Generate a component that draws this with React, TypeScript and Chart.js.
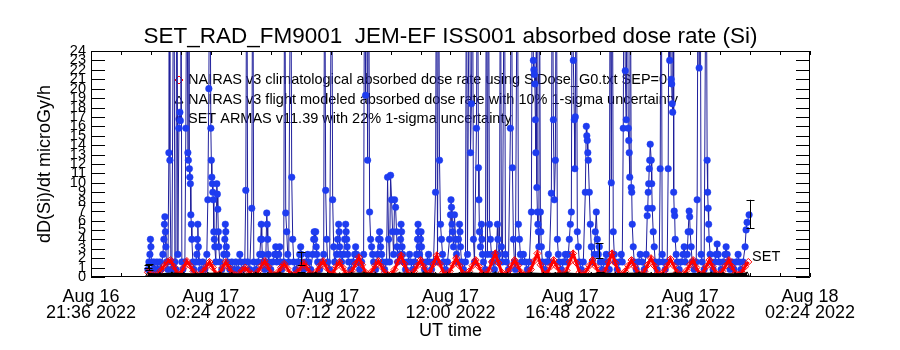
import React, { useEffect, useRef } from 'react';
import { Chart, registerables } from 'chart.js';

Chart.register(...registerables);

// ---- axis definitions (hours since Aug 16 2022 21:36 UT) ----
const xTickHours = [0, 4.8, 9.6, 14.4, 19.2, 24.0, 28.8];
const xTickDates = ['Aug 16', 'Aug 17', 'Aug 17', 'Aug 17', 'Aug 17', 'Aug 17', 'Aug 18'];
const xTickTimes = ['21:36 2022', '02:24 2022', '07:12 2022', '12:00 2022', '16:48 2022', '21:36 2022', '02:24 2022'];
const xMinorStep = 1.2;
const yMin = 0;
const yMax = 24;

const titleText = 'SET_RAD_FM9001  JEM-EF ISS001 absorbed dose rate (Si)';
const yTitle = 'dD(Si)/dt microGy/h';
const xTitle = 'UT time';
const legendLabels = [
  'NAIRAS v3 climatological absorbed dose rate using SiDose_G0.txt SEP=0',
  'NAIRAS v3 flight modeled absorbed dose rate with 10% 1-sigma uncertainty',
  'SET ARMAS v11.39 with 22% 1-sigma uncertainty',
];

// ---- SET ARMAS measured dose rate: [hour, microGy/h] (values > 24 are off scale) ----
const blueSamples: [number, number][] = [
  [2.28,0.8],[2.32,1.6],[2.36,2.4],[2.38,4.0],[2.40,3.2],[2.42,1.6],[2.48,0.8],[2.52,1.6],[2.56,0.8],[2.64,1.6],
  [2.68,0.8],[2.76,1.6],[2.80,0.8],[2.88,2.4],[2.92,4.0],[2.94,5.6],[2.96,6.4],[2.98,4.8],[3.00,3.2],[3.02,1.6],
  [3.08,0.8],[3.12,13.2],[3.13,40],[3.16,12.4],[3.20,1.6],[3.24,0.8],[3.32,40],[3.36,1.6],[3.40,0.8],[3.44,40],
  [3.48,2.4],[3.52,15.8],[3.56,17.5],[3.58,16.6],[3.60,40],[3.64,1.6],[3.68,0.8],[3.76,1.6],[3.80,15.8],[3.84,40],
  [3.88,13.2],[3.90,12.4],[3.92,40],[3.94,11.5],[3.96,10.6],[3.98,9.9],[4.00,6.6],[4.02,5.6],[4.04,4.0],[4.08,1.6],
  [4.12,0.8],[4.20,1.6],[4.24,2.4],[4.26,4.0],[4.28,5.6],[4.30,3.2],[4.32,1.6],[4.40,0.8],[4.48,1.6],[4.56,0.8],
  [4.64,2.4],[4.68,8.2],[4.72,20],[4.76,40],[4.80,15.8],[4.82,12.4],[4.84,10.6],[4.86,9.9],[4.88,9.0],[4.90,8.2],
  [4.92,4.8],[4.94,4.0],[4.96,3.2],[5.00,1.6],[5.04,9.9],[5.06,8.8],[5.08,7.2],[5.10,4.8],[5.12,3.2],[5.16,1.6],
  [5.24,0.8],[5.32,2.4],[5.36,4.0],[5.38,5.6],[5.40,4.8],[5.42,3.2],[5.44,2.4],[5.48,1.6],[5.56,0.8],[5.64,1.6],
  [5.72,0.8],[5.80,1.6],[5.88,0.8],[5.96,2.4],[6.00,1.6],[6.08,0.8],[6.16,1.6],[6.20,9.2],[6.24,40],[6.28,1.6],
  [6.36,0.8],[6.44,7.3],[6.48,40],[6.52,1.6],[6.60,0.8],[6.68,1.6],[6.76,2.4],[6.80,4.0],[6.82,5.6],[6.84,4.0],
  [6.86,2.4],[6.88,1.6],[6.96,0.8],
  [7.00,1.6],[7.04,6.8],[7.06,5.6],[7.08,4.0],[7.10,2.4],[7.12,1.6],[7.20,0.8],[7.28,1.6],[7.36,2.4],[7.40,3.2],
  [7.42,2.4],[7.44,1.6],[7.52,2.4],[7.56,3.2],[7.58,1.6],[7.64,0.8],[7.72,1.6],[7.76,40],[7.80,6.8],[7.84,4.8],
  [7.88,2.4],[7.92,1.6],[8.00,40],[8.04,10.6],[8.08,4.0],[8.12,1.6],[8.20,0.8],[8.28,1.6],[8.36,2.4],[8.40,3.2],
  [8.42,2.4],[8.44,1.6],[8.52,0.8],[8.60,1.6],[8.68,2.4],[8.72,1.6],[8.80,0.8],[8.88,2.4],[8.92,4.0],[8.94,4.8],
  [8.96,4.0],[9.00,4.8],[9.02,3.2],[9.04,2.4],[9.08,1.6],[9.16,0.8],[9.24,1.6],[9.32,2.4],[9.36,40],[9.40,9.2],
  [9.44,4.0],[9.48,1.6],[9.56,0.8],[9.64,40],[9.68,8.2],[9.72,3.2],[9.76,1.6],[9.84,2.4],[9.88,4.0],[9.92,5.6],
  [9.94,4.8],[9.96,3.2],[10.00,2.4],[10.04,1.6],[10.12,2.4],[10.16,4.0],[10.20,5.6],[10.22,4.8],[10.24,4.0],[10.26,3.2],
  [10.28,2.4],[10.32,1.6],[10.40,0.8],[10.48,1.6],[10.56,2.4],[10.60,3.2],[10.64,2.4],[10.68,1.6],[10.76,0.8],[10.84,1.6],
  [10.92,2.4],[10.96,40],[11.00,19.3],[11.04,40],[11.08,12.4],[11.12,40],[11.16,6.9],[11.20,4.0],[11.24,3.2],[11.28,2.4],
  [11.32,1.6],[11.40,0.8],[11.48,2.4],[11.52,4.0],[11.56,4.8],[11.58,4.0],[11.60,3.2],[11.64,2.4],[11.68,1.6],[11.76,0.8],
  [11.84,1.6],[11.88,10.6],[11.92,4.0],
  [11.96,1.6],[12.00,10.8],[12.04,8.2],[12.08,4.8],[12.12,2.4],[12.16,8.2],[12.20,7.4],[12.24,4.8],[12.26,3.2],[12.28,1.6],
  [12.36,2.4],[12.40,4.0],[12.42,5.6],[12.44,4.8],[12.46,3.2],[12.48,2.4],[12.52,1.6],[12.60,0.8],[12.68,1.6],[12.76,2.4],
  [12.80,1.6],[12.88,0.8],[12.96,1.6],[13.04,2.4],[13.08,4.0],[13.10,5.6],[13.12,4.8],[13.14,3.2],[13.16,2.4],[13.20,4.0],
  [13.22,4.8],[13.24,3.2],[13.28,1.6],[13.36,0.8],[13.44,1.6],[13.52,2.4],[13.56,1.6],[13.64,0.8],[13.72,1.6],[13.80,9.0],
  [13.84,40],[13.88,1.6],[13.92,40],[13.96,12.4],[14.00,5.6],[14.04,4.0],[14.08,2.4],[14.12,1.6],[14.20,0.8],[14.28,1.6],
  [14.36,4.0],[14.40,6.6],[14.42,8.2],[14.44,7.4],[14.46,5.6],[14.48,4.8],[14.52,3.2],[14.56,6.6],[14.60,4.0],[14.64,2.4],
  [14.68,1.6],[14.72,4.0],[14.76,5.6],[14.78,4.8],[14.80,3.2],[14.84,1.6],[14.92,0.8],[15.00,1.6],[15.04,40],[15.08,2.4],
  [15.16,40],[15.20,13.2],[15.24,18.4],[15.28,40],[15.32,4.0],[15.36,1.6],[15.44,15.8],[15.48,40],[15.52,11.6],[15.54,8.2],
  [15.56,4.8],[15.60,3.2],[15.64,5.6],[15.66,4.0],[15.68,2.4],[15.72,1.6],[15.80,0.8],[15.84,40],[15.88,2.4],[15.92,40],
  [15.96,5.6],[16.00,4.0],[16.04,2.4],[16.08,1.6],[16.16,0.8],[16.24,2.4],[16.28,5.6],[16.30,4.0],[16.32,2.4],[16.36,1.6],
  [16.40,40],[16.44,3.2],[16.48,1.6],[16.56,40],[16.60,2.4],[16.64,1.6],[16.72,0.8],[16.80,15.8],[16.84,40],[16.88,11.6],
  [16.92,4.0],[16.96,1.6],
  [17.00,0.8],[17.08,40],[17.12,5.6],[17.16,4.0],[17.20,2.4],[17.24,1.6],[17.32,2.4],[17.40,1.6],[17.48,0.8],[17.56,1.6],
  [17.64,6.9],[17.68,40],[17.72,23.0],[17.74,22.0],[17.76,21.5],[17.78,20.5],[17.80,16.7],[17.82,13.2],[17.84,40],[17.86,9.5],
  [17.88,6.9],[17.90,5.6],[17.92,4.8],[17.94,3.2],[17.96,40],[18.00,6.9],[18.02,4.8],[18.04,3.2],[18.08,1.6],[18.16,0.8],
  [18.24,1.6],[18.32,2.4],[18.36,1.6],[18.44,8.9],[18.48,40],[18.52,16.7],[18.56,8.2],[18.60,12.4],[18.64,40],[18.68,4.0],
  [18.72,2.4],[18.76,1.6],[18.84,0.8],[18.92,1.6],[19.00,2.4],[19.04,1.6],[19.12,2.4],[19.16,4.0],[19.20,5.6],[19.24,6.9],
  [19.28,40],[19.32,23.0],[19.36,16.7],[19.38,11.5],[19.40,17.0],[19.44,40],[19.48,4.8],[19.52,3.2],[19.56,1.6],[19.64,0.8],
  [19.72,1.6],[19.80,9.0],[19.84,16.0],[19.86,15.0],[19.88,14.5],[19.90,13.2],[19.92,12.4],[19.96,9.0],[20.00,5.6],[20.04,3.2],
  [20.08,1.6],[20.16,2.4],[20.20,4.8],[20.24,6.9],[20.28,4.0],[20.32,2.4],[20.36,3.2],[20.40,1.6],[20.48,0.8],[20.56,1.6],
  [20.64,2.4],[20.68,1.6],[20.76,0.8],[20.80,40],[20.84,10.0],[20.88,40],[20.92,4.8],[20.96,2.4],[21.00,1.6],[21.08,0.8],
  [21.16,1.6],[21.24,2.4],[21.28,1.6],[21.32,15.8],[21.36,40],[21.40,21.9],[21.44,16.7],[21.48,40],[21.52,15.8],[21.54,14.5],
  [21.56,13.2],[21.58,10.6],[21.60,40],[21.64,9.5],[21.66,9.0],[21.68,5.6],[21.72,3.2],[21.76,1.6],[21.84,0.8],[21.92,1.6],
  [22.00,2.4],[22.08,1.6],[22.16,0.8],[22.24,2.4],[22.28,6.5],[22.30,7.3],[22.32,9.0],[22.34,9.9],[22.36,11.5],[22.38,12.4],
  [22.40,14.1],[22.44,12.4],[22.46,9.9],[22.48,7.3],[22.52,4.8],[22.56,3.2],[22.60,1.6],[22.68,0.8],[22.76,1.6],[22.80,11.5],
  [22.84,40],[22.88,2.4],[22.92,1.6],[23.00,0.8],[23.08,1.6],[23.12,11.5],[23.16,40],[23.18,23.0],[23.20,40],[23.24,21.0],
  [23.26,20.5],[23.28,18.4],[23.30,17.5],[23.32,40],[23.34,9.0],[23.36,7.0],[23.38,6.5],[23.40,4.0],[23.44,2.4],[23.48,1.6],
  [23.56,0.8],[23.64,1.6],[23.72,2.4],[23.76,3.2],[23.80,1.6],[23.88,2.4],[23.92,4.8],[23.96,7.0],[23.98,6.4],[24.00,4.8],
  [24.04,3.2],[24.08,1.6],[24.16,0.8],[24.24,1.6],[24.28,8.2],[24.32,40],[24.36,22.2],[24.40,40],[24.44,2.4],[24.48,1.6],
  [24.56,0.8],[24.64,40],[24.68,12.4],[24.70,9.0],[24.72,7.3],[24.74,5.6],[24.76,4.0],[24.80,2.4],[24.84,1.6],[24.92,0.8],
  [25.00,1.6],[25.04,2.4],[25.08,3.5],[25.12,2.4],[25.16,1.6],[25.24,0.8],[25.32,1.6],[25.40,2.4],[25.44,3.2],[25.48,2.4],
  [25.52,1.6],[25.60,0.8],[25.68,1.6],[25.76,0.8],[25.84,1.6],[25.92,2.4],[25.96,1.6],[26.04,0.8],[26.12,1.6],[26.20,3.2],
  [26.24,5.0],[26.28,5.8],[26.36,6.6],
];

// ---- NAIRAS v3 climatological dose rate, regular samples ----
const redStartHour = 2.28;
const redStepHour = 0.13;
const redDose = [
  0.5, 0.3, 0.2, 0.3, 0.7, 1.2, 1.6,
  1.8, 1.1, 0.4, 0.3, 1.0,
  1.7, 1.2, 0.6, 0.2, 0.2, 0.6, 1.1,
  1.6, 1.0, 0.3, 0.3, 1.0,
  1.6, 1.0, 0.4, 0.2, 0.3, 0.7,
  1.0, 0.6, 0.3, 0.2, 0.6, 1.2,
  1.7, 1.1, 0.4, 0.2, 0.5, 1.0,
  1.4, 0.9, 0.3, 0.2, 0.5, 1.0,
  1.5, 1.0, 0.4, 0.2, 0.6, 1.2,
  1.7, 1.0, 0.3, 0.4, 1.1,
  1.6, 1.0, 0.4, 0.2, 0.7, 1.4,
  2.1, 1.3, 0.5, 0.2, 0.6, 1.2,
  1.7, 1.1, 0.5, 0.2, 0.3, 0.8, 1.6,
  2.3, 1.4, 0.5, 0.2, 0.6, 1.2,
  1.8, 1.1, 0.3, 0.5, 1.4,
  2.3, 1.4, 0.5, 0.2, 0.6, 1.3,
  2.0, 1.2, 0.4, 0.2, 0.6, 1.2,
  1.8, 1.1, 0.4, 0.2, 0.7, 1.6,
  2.5, 1.5, 0.5, 0.2, 0.6, 1.2,
  1.8, 1.2, 0.5, 0.2, 0.3, 0.8, 1.7,
  2.5, 1.3, 0.3, 0.4, 1.1,
  1.8, 1.1, 0.4, 0.2, 0.7, 1.6,
  2.5, 1.5, 0.5, 0.2, 0.6, 1.2,
  1.8, 1.1, 0.4, 0.2, 0.7, 1.6,
  2.5, 1.5, 0.5, 0.2, 0.6, 1.2,
  1.8, 1.1, 0.4, 0.2, 0.6, 1.3,
  2.0, 1.2, 0.4, 0.2, 0.6, 1.2,
  1.9, 1.2, 0.5, 0.2, 0.3, 0.7, 1.3,
  1.8, 1.0, 0.3, 0.4, 1.1,
  1.8, 1.1, 0.4, 0.2, 0.6, 1.2,
  1.8, 1.1, 0.4, 0.2, 0.5, 1.1,
  1.6,
];

// ---- NAIRAS v3 flight modeled dose rate, regular samples ----
const blackStartHour = 2.28;
const blackStepHour = 0.48;
const blackDose = [
  0.25, 0.22, 0.28, 0.25, 0.2, 0.26, 0.3, 0.24, 0.22, 0.27,
  0.25, 0.3, 0.22, 0.25, 0.28, 0.24, 0.2, 0.26, 0.3, 0.25,
  0.22, 0.28, 0.25, 0.3, 0.24, 0.22, 0.26, 0.28, 0.25, 0.3,
  0.22, 0.25, 0.28, 0.24, 0.26, 0.3, 0.22, 0.25, 0.28, 0.24,
  0.26, 0.3, 0.25, 0.22, 0.28, 0.24, 0.26, 0.3, 0.25, 0.22,
  0.28,
];

// ---- SET 22% error bars at sparse times ----
const errHours = [2.34, 8.40, 20.36, 26.38];
const errCenter = [1.05, 2.0, 2.8, 6.7];
const errHalf = [0.3, 0.7, 0.8, 1.5];
// NAIRAS flight 10% error marks
const nErrHours = [2.30, 8.42, 20.38];
const nErrCenter = [1.1, 0.5, 0.45];
const nErrHalf = [0.15, 0.04, 0.04];

const setLabelValue = 2.1;

const FONT = '"Liberation Sans", Arial, sans-serif';
const BLUE_LINE = '#20209c';
const BLUE_PT = '#1e3cf0';
const RED = '#ff0000';

const overlayPlugin = {
  id: 'idlOverlay',
  beforeDatasetsDraw(chart: any) {
    const { ctx, chartArea } = chart;
    const { left, top } = chartArea;
    ctx.save();
    ctx.font = '14.5px ' + FONT;
    ctx.fillStyle = '#000';
    ctx.textAlign = 'left';
    ctx.textBaseline = 'middle';
    const rows = [top + 29, top + 49, top + 68];
    legendLabels.forEach((t, i) => ctx.fillText(t, left + 97, rows[i]));
    const sx = left + 88;
    ctx.strokeStyle = RED;
    ctx.lineWidth = 1;
    ctx.beginPath();
    ctx.moveTo(sx, rows[0] - 4);
    ctx.lineTo(sx + 4, rows[0]);
    ctx.lineTo(sx, rows[0] + 4);
    ctx.lineTo(sx - 4, rows[0]);
    ctx.closePath();
    ctx.stroke();
    ctx.strokeStyle = '#000';
    ctx.beginPath();
    ctx.moveTo(sx, rows[1] - 4);
    ctx.lineTo(sx + 4, rows[1] + 3);
    ctx.lineTo(sx - 4, rows[1] + 3);
    ctx.closePath();
    ctx.stroke();
    ctx.fillStyle = BLUE_PT;
    ctx.beginPath();
    ctx.arc(sx, rows[2], 3.5, 0, Math.PI * 2);
    ctx.fill();
    ctx.restore();
  },
  afterDatasetsDraw(chart: any) {
    const { ctx, scales } = chart;
    const xs = scales.x;
    const ys = scales.y;
    ctx.save();
    ctx.strokeStyle = '#000';
    ctx.lineWidth = 1;
    const drawBar = (h: number, c: number, d: number, cap: number) => {
      const px = Math.round(xs.getPixelForValue(h)) + 0.5;
      const y1 = ys.getPixelForValue(c + d);
      const y2 = ys.getPixelForValue(c - d);
      ctx.beginPath();
      ctx.moveTo(px, y1);
      ctx.lineTo(px, y2);
      ctx.moveTo(px - cap, Math.round(y1) + 0.5);
      ctx.lineTo(px + cap, Math.round(y1) + 0.5);
      ctx.moveTo(px - cap, Math.round(y2) + 0.5);
      ctx.lineTo(px + cap, Math.round(y2) + 0.5);
      ctx.stroke();
    };
    errHours.forEach((h, i) => drawBar(h, errCenter[i], errHalf[i], 4));
    nErrHours.forEach((h, i) => drawBar(h, nErrCenter[i], nErrHalf[i], 4));
    const last = blueSamples[blueSamples.length - 1];
    ctx.font = '14.5px ' + FONT;
    ctx.fillStyle = '#000';
    ctx.textAlign = 'left';
    ctx.textBaseline = 'middle';
    ctx.fillText('SET', xs.getPixelForValue(last[0]) + 3, ys.getPixelForValue(setLabelValue));
    ctx.restore();
  },
  afterDraw(chart: any) {
    const { ctx, chartArea, scales } = chart;
    const { left, right, top, bottom } = chartArea;
    const xs = scales.x;
    const ys = scales.y;
    ctx.save();
    ctx.strokeStyle = '#000';
    ctx.lineWidth = 1;
    ctx.beginPath();
    ctx.rect(left + 0.5, top + 0.5, right - left - 1, bottom - top - 1);
    ctx.stroke();
    ctx.beginPath();
    for (let v = yMin; v <= yMax; v++) {
      const py = Math.round(ys.getPixelForValue(v)) + 0.5;
      ctx.moveTo(left, py);
      ctx.lineTo(left + 14, py);
      ctx.moveTo(right - 14, py);
      ctx.lineTo(right, py);
    }
    const nMinor = Math.round((xTickHours[xTickHours.length - 1] - xTickHours[0]) / xMinorStep);
    for (let k = 0; k <= nMinor; k++) {
      const px = Math.round(xs.getPixelForValue(xTickHours[0] + k * xMinorStep)) + 0.5;
      ctx.moveTo(px, top);
      ctx.lineTo(px, top + 4);
      ctx.moveTo(px, bottom);
      ctx.lineTo(px, bottom - 4);
    }
    ctx.stroke();
    ctx.fillStyle = '#000';
    ctx.textAlign = 'center';
    ctx.textBaseline = 'middle';
    ctx.font = '22.5px ' + FONT;
    ctx.fillText(titleText, (left + right) / 2, top - 14);
    ctx.font = '18px ' + FONT;
    ctx.fillText(xTitle, (left + right) / 2, bottom + 54);
    ctx.translate(45, (top + bottom) / 2);
    ctx.rotate(-Math.PI / 2);
    ctx.font = '18px ' + FONT;
    ctx.fillText(yTitle, 0, 0);
    ctx.restore();
  },
};

export default function App() {
  const ref = useRef<HTMLCanvasElement | null>(null);
  useEffect(() => {
    if (!ref.current) return;
    const chart = new Chart(ref.current, {
      type: 'line',
      data: {
        datasets: [
          {
            label: 'NAIRAS flight',
            data: blackDose.map((v, i) => ({ x: blackStartHour + i * blackStepHour, y: v })),
            borderColor: '#000',
            borderWidth: 3.5,
            pointStyle: 'triangle',
            pointRadius: 2.5,
            pointBorderColor: '#000',
            pointBackgroundColor: 'rgba(0,0,0,0)',
            pointBorderWidth: 1,
            order: 0,
          },
          {
            label: 'NAIRAS clim',
            data: redDose.map((v, i) => ({ x: redStartHour + i * redStepHour, y: v })),
            borderColor: RED,
            borderWidth: 3,
            pointStyle: 'rectRot',
            pointRadius: 3.5,
            pointBorderColor: RED,
            pointBackgroundColor: 'rgba(0,0,0,0)',
            pointBorderWidth: 1,
            order: 1,
          },
          {
            label: 'SET ARMAS',
            data: blueSamples.map(([x, y]) => ({ x, y })),
            borderColor: BLUE_LINE,
            borderWidth: 1,
            pointStyle: 'circle',
            pointRadius: 3.3,
            pointBorderWidth: 0.5,
            pointBorderColor: BLUE_PT,
            pointBackgroundColor: BLUE_PT,
            order: 2,
          },
        ],
      },
      options: {
        responsive: false,
        animation: false,
        events: [],
        layout: { padding: { top: 51, right: 90, left: 0, bottom: 0 } },
        plugins: { legend: { display: false }, title: { display: false }, tooltip: { enabled: false } },
        scales: {
          x: {
            type: 'linear',
            min: xTickHours[0],
            max: xTickHours[xTickHours.length - 1],
            grid: { display: false, drawTicks: false },
            border: { display: false },
            afterBuildTicks: (scale: any) => {
              scale.ticks = xTickHours.map((v) => ({ value: v }));
            },
            afterFit: (scale: any) => {
              scale.height = 73;
            },
            ticks: {
              autoSkip: false,
              maxRotation: 0,
              padding: 12,
              color: '#000',
              font: { family: FONT, size: 18, lineHeight: 0.9 },
              callback: (value: any) => {
                const i = xTickHours.findIndex((h) => Math.abs(h - Number(value)) < 1e-6);
                return i >= 0 ? [xTickDates[i], xTickTimes[i]] : '';
              },
            },
          },
          y: {
            type: 'linear',
            min: yMin,
            max: yMax,
            grid: { display: false, drawTicks: false },
            border: { display: false },
            afterFit: (scale: any) => {
              scale.width = 91;
            },
            ticks: {
              stepSize: 1,
              autoSkip: false,
              padding: 5,
              color: '#000',
              font: { family: FONT, size: 14.5 },
            },
          },
        },
      },
      plugins: [overlayPlugin],
    } as any);
    return () => chart.destroy();
  }, []);
  return (
    <div style={{ position: 'absolute', left: 0, top: 0, width: 900, height: 350, background: '#fff' }}>
      <canvas ref={ref} width={900} height={350} style={{ display: 'block' }} />
    </div>
  );
}
